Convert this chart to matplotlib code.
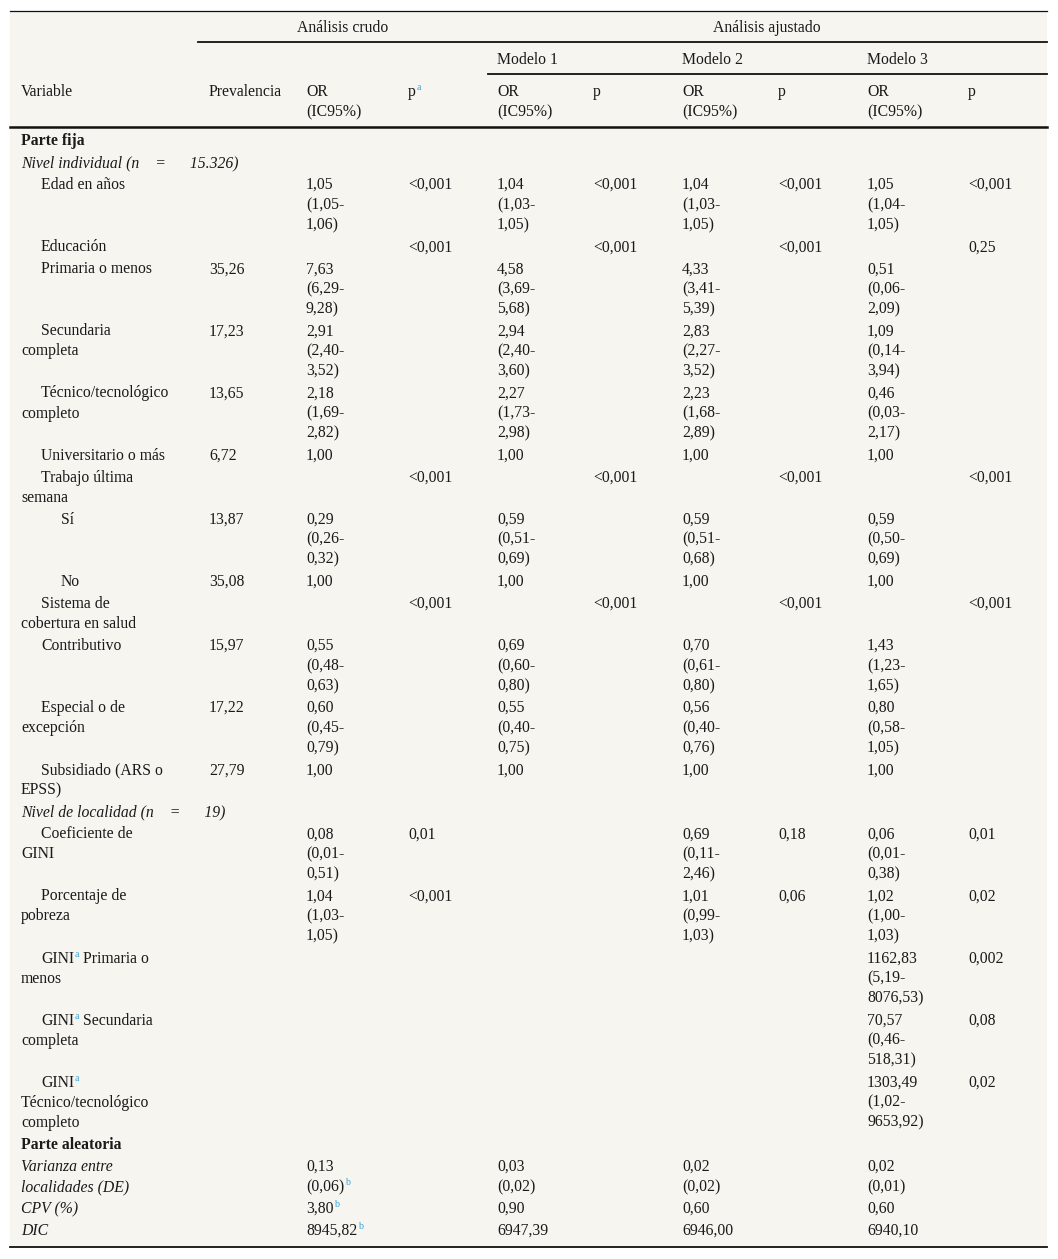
import matplotlib
matplotlib.use('Agg')
import matplotlib.pyplot as plt
from matplotlib.patches import Rectangle

plt.rcParams['font.family'] = ['Liberation Serif', 'DejaVu Serif']

# ---- table content ----
labels = ['Parte fija', 'Nivel individual (n    =      15.326)', 'Edad en años', 'Educación',
          'Primaria o menos', 'Secundaria\ncompleta', 'Técnico/tecnológico\ncompleto',
          'Universitario o más', 'Trabajo última\nsemana', 'Sí', 'No',
          'Sistema de\ncobertura en salud', 'Contributivo', 'Especial o de\nexcepción',
          'Subsidiado (ARS o\nEPSS)', 'Nivel de localidad (n    =      19)', 'Coeficiente de\nGINI',
          'Porcentaje de\npobreza', 'GINI^a Primaria o\nmenos', 'GINI^a Secundaria\ncompleta',
          'GINI^a\nTécnico/tecnológico\ncompleto', 'Parte aleatoria',
          'Varianza entre\nlocalidades (DE)', 'CPV (%)', 'DIC']
levels = [0, 0, 1, 1, 1, 1, 1, 1, 1, 2, 2, 1, 1, 1, 1, 0, 1, 1, 1, 1, 1, 0, 0, 0, 0]
styles = ['bold', 'italic'] + ['normal'] * 13 + ['italic'] + ['normal'] * 5 + ['bold'] + ['italic'] * 3

prevalencia = ['', '', '', '', '35,26', '17,23', '13,65', '6,72', '', '13,87', '35,08', '',
               '15,97', '17,22', '27,79', '', '', '', '', '', '', '', '', '', '']
or_crudo = ['', '', '1,05\n(1,05-\n1,06)', '', '7,63\n(6,29-\n9,28)', '2,91\n(2,40-\n3,52)',
            '2,18\n(1,69-\n2,82)', '1,00', '', '0,29\n(0,26-\n0,32)', '1,00', '',
            '0,55\n(0,48-\n0,63)', '0,60\n(0,45-\n0,79)', '1,00', '', '0,08\n(0,01-\n0,51)',
            '1,04\n(1,03-\n1,05)', '', '', '', '', '0,13\n(0,06)^b', '3,80^b', '8945,82^b']
p_crudo = ['', '', '<0,001', '<0,001', '', '', '', '', '<0,001', '', '', '<0,001', '', '', '',
           '', '0,01', '<0,001', '', '', '', '', '', '', '']
or_m1 = ['', '', '1,04\n(1,03-\n1,05)', '', '4,58\n(3,69-\n5,68)', '2,94\n(2,40-\n3,60)',
         '2,27\n(1,73-\n2,98)', '1,00', '', '0,59\n(0,51-\n0,69)', '1,00', '',
         '0,69\n(0,60-\n0,80)', '0,55\n(0,40-\n0,75)', '1,00', '', '', '', '', '', '', '',
         '0,03\n(0,02)', '0,90', '6947,39']
p_m1 = ['', '', '<0,001', '<0,001', '', '', '', '', '<0,001', '', '', '<0,001', '', '', '',
        '', '', '', '', '', '', '', '', '', '']
or_m2 = ['', '', '1,04\n(1,03-\n1,05)', '', '4,33\n(3,41-\n5,39)', '2,83\n(2,27-\n3,52)',
         '2,23\n(1,68-\n2,89)', '1,00', '', '0,59\n(0,51-\n0,68)', '1,00', '',
         '0,70\n(0,61-\n0,80)', '0,56\n(0,40-\n0,76)', '1,00', '', '0,69\n(0,11-\n2,46)',
         '1,01\n(0,99-\n1,03)', '', '', '', '', '0,02\n(0,02)', '0,60', '6946,00']
p_m2 = ['', '', '<0,001', '<0,001', '', '', '', '', '<0,001', '', '', '<0,001', '', '', '',
        '', '0,18', '0,06', '', '', '', '', '', '', '']
or_m3 = ['', '', '1,05\n(1,04-\n1,05)', '', '0,51\n(0,06-\n2,09)', '1,09\n(0,14-\n3,94)',
         '0,46\n(0,03-\n2,17)', '1,00', '', '0,59\n(0,50-\n0,69)', '1,00', '',
         '1,43\n(1,23-\n1,65)', '0,80\n(0,58-\n1,05)', '1,00', '', '0,06\n(0,01-\n0,38)',
         '1,02\n(1,00-\n1,03)', '1162,83\n(5,19-\n8076,53)', '70,57\n(0,46-\n518,31)',
         '1303,49\n(1,02-\n9653,92)', '', '0,02\n(0,01)', '0,60', '6940,10']
p_m3 = ['', '', '<0,001', '0,25', '', '', '', '', '<0,001', '', '', '<0,001', '', '', '',
        '', '0,01', '0,02', '0,002', '0,08', '0,02', '', '', '', '']

columns = [prevalencia, or_crudo, p_crudo, or_m1, p_m1, or_m2, p_m2, or_m3, p_m3]
col_x = [209, 306, 408, 497, 593, 682, 778, 867, 968]

# ---- layout ----
W, H = 1058, 1259
FS = 11.3
TXT = '#1a1a1a'
SUP = '#3fa3d6'
BG = '#f7f5f0'

fig = plt.figure(figsize=(W / 100, H / 100), dpi=100)
ax = fig.add_axes([0, 0, 1, 1])
ax.set_xlim(0, W)
ax.set_ylim(H, 0)
ax.axis('off')
renderer = fig.canvas.get_renderer()

left, right = 10, 1047
ax.add_patch(Rectangle((left, 11), right - left, 1247 - 11, facecolor=BG, edgecolor='none', zorder=0))


def right_edge(t):
    bb = t.get_window_extent(renderer)
    return ax.transData.inverted().transform((bb.x1, bb.y0))[0]


def put(x, y, s, weight='normal', style='normal'):
    # one line of text; the character after ^ is a small blue superscript
    if '^' in s:
        main, rest = s.split('^', 1)
        sup, tail = rest[0], rest[1:]
    else:
        main, sup, tail = s, '', ''
    t = ax.text(x, y, main, fontsize=FS, color=TXT, fontweight=weight, fontstyle=style,
                va='baseline', ha='left')
    if sup:
        x1 = right_edge(t) + 0.5
        ts = ax.text(x1, y - 6, sup, fontsize=7.2, color=SUP, va='baseline', ha='left')
        if tail:
            ax.text(right_edge(ts), y, tail, fontsize=FS, color=TXT, fontweight=weight,
                    fontstyle=style, va='baseline', ha='left')


# header
ax.plot([left, right], [11, 11], color='#111111', lw=0.9)
ax.text(343, 32, 'Análisis crudo', fontsize=FS, color=TXT, ha='center', va='baseline')
ax.text(767, 32, 'Análisis ajustado', fontsize=FS, color=TXT, ha='center', va='baseline')
ax.plot([198, right], [42, 42], color='#111111', lw=1.3)
for x, name in zip([497, 682, 867], ['Modelo 1', 'Modelo 2', 'Modelo 3']):
    put(x, 64, name)
ax.plot([488, right], [74, 74], color='#111111', lw=1.3)
put(21, 96, 'Variable')
put(209, 96, 'Prevalencia')
for x in [306, 497, 682, 867]:
    put(x, 96, 'OR')
    put(x, 116, '(IC95%)')
put(408, 96, 'p^a')
for x in [593, 778, 968]:
    put(x, 96, 'p')
ax.plot([left, right], [127, 127], color='#111111', lw=1.8)

# body
LINE = 20.04
GAP = 2
y = 145
indent_x = [21, 41, 61]
for i, lab in enumerate(labels):
    weight = 'bold' if styles[i] == 'bold' else 'normal'
    style = 'italic' if styles[i] == 'italic' else 'normal'
    lab_lines = lab.split('\n')
    for k, ln in enumerate(lab_lines):
        put(indent_x[levels[i]] if k == 0 else 21, y + k * LINE, ln, weight, style)
    nmax = len(lab_lines)
    for col, x in zip(columns, col_x):
        if col[i]:
            cl = col[i].split('\n')
            nmax = max(nmax, len(cl))
            for k, ln in enumerate(cl):
                put(x, y + k * LINE, ln)
    y += nmax * LINE + GAP

ax.plot([left, right], [1247, 1247], color='#111111', lw=1.3)

fig.savefig('out.png', dpi=100, facecolor='white')
